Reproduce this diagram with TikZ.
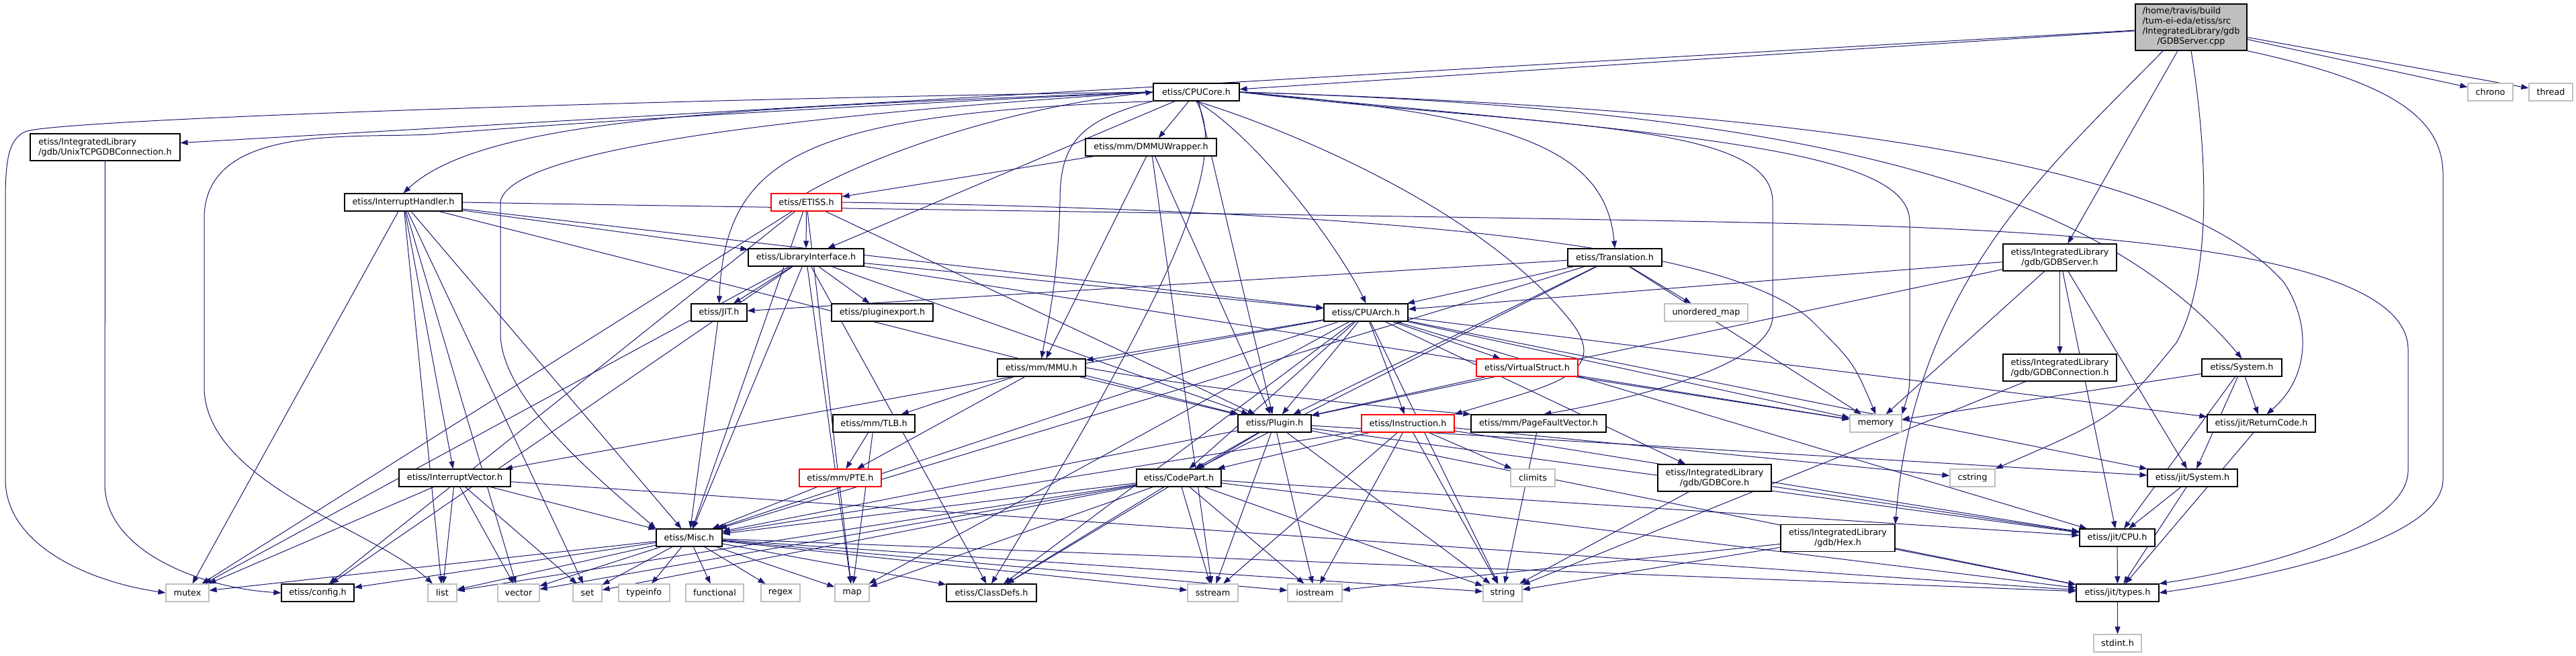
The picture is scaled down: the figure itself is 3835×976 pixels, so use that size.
\documentclass[tikz,border=0pt]{standalone}
\usepackage{fontspec}
\newfontfamily\dv{DejaVu Sans}
\usetikzlibrary{arrows.meta}
\definecolor{edgec}{HTML}{191970}
\definecolor{grayb}{HTML}{BFBFBF}
\pgfdeclarelayer{bg}
\pgfsetlayers{bg,main}
\tikzset{
  base/.style={rectangle, inner sep=0pt, line width=1.2pt, fill=white, text=black, font=\dv\fontsize{12.8}{15}\selectfont},
  nb/.style={base, draw=black},
  ng/.style={base, draw=grayb},
  nr/.style={base, draw=red},
  nroot/.style={base, draw=black, fill=grayb},
  e/.style={draw=edgec, line width=1pt, -{Triangle[length=11pt,width=8pt]}},
}
\begin{document}
\begin{tikzpicture}[x=1pt,y=-1pt]
\useasboundingbox (0,0) rectangle (3835,976);
% row 0
\node[nroot, minimum width=166pt, minimum height=69pt] (cpp) at (3262,40.5) {\begin{tabular}{@{}l@{}}/home/travis/build\\/tum-ei-eda/etiss/src\\/IntegratedLibrary/gdb\\\multicolumn{1}{@{}c@{}}{/GDBServer.cpp}\end{tabular}};
% row 1
\node[nb, minimum width=128pt, minimum height=26pt] (core) at (1781,137) {etiss/CPUCore.h};
\node[ng, minimum width=67pt, minimum height=26pt] (chrono) at (3707.5,137) {chrono};
\node[ng, minimum width=65pt, minimum height=26pt] (thread) at (3797.5,137) {thread};
% row 2
\node[nb, minimum width=223pt, minimum height=40pt, align=left] (unix) at (156.5,219) {etiss/IntegratedLibrary\\/gdb/UnixTCPGDBConnection.h};
\node[nb, minimum width=195pt, minimum height=26pt] (dmmu) at (1713.5,219) {etiss/mm/DMMUWrapper.h};
% row 3
\node[nb, minimum width=175pt, minimum height=26pt] (ih) at (600.5,301) {etiss/InterruptHandler.h};
\node[nr, minimum width=105pt, minimum height=26pt] (etiss) at (1200.5,301) {etiss/ETISS.h};
% row 4
\node[nb, minimum width=172pt, minimum height=26pt] (li) at (1200,383) {etiss/LibraryInterface.h};
\node[nb, minimum width=140pt, minimum height=26pt] (trans) at (2404,383) {etiss/Translation.h};
\node[nb, minimum width=169pt, minimum height=40pt, align=center] (gsh) at (3066.5,383) {etiss/IntegratedLibrary\\/gdb/GDBServer.h};
% row 5
\node[nb, minimum width=83pt, minimum height=26pt] (jith) at (1070.5,465) {etiss/JIT.h};
\node[nb, minimum width=151pt, minimum height=26pt] (pe) at (1313.5,465) {etiss/pluginexport.h};
\node[nb, minimum width=125pt, minimum height=26pt] (arch) at (2033.5,465) {etiss/CPUArch.h};
\node[ng, minimum width=124pt, minimum height=26pt] (umap) at (2540,465) {unordered\_map};
% row 6
\node[nb, minimum width=131pt, minimum height=26pt] (mmu) at (1550.5,547) {etiss/mm/MMU.h};
\node[nr, minimum width=151pt, minimum height=26pt] (vs) at (2273.5,547) {etiss/VirtualStruct.h};
\node[nb, minimum width=169pt, minimum height=40pt, align=center] (gconn) at (3066.5,547) {etiss/IntegratedLibrary\\/gdb/GDBConnection.h};
\node[nb, minimum width=119pt, minimum height=26pt] (sys) at (3337.5,547) {etiss/System.h};
% row 7
\node[nb, minimum width=122pt, minimum height=26pt] (tlb) at (1301,630) {etiss/mm/TLB.h};
\node[nb, minimum width=109pt, minimum height=26pt] (plugin) at (1897.5,630) {etiss/Plugin.h};
\node[nr, minimum width=138pt, minimum height=26pt] (instr) at (2096,630) {etiss/Instruction.h};
\node[nb, minimum width=201pt, minimum height=26pt] (pfv) at (2290.5,630) {etiss/mm/PageFaultVector.h};
\node[ng, minimum width=77pt, minimum height=26pt] (mem) at (2792.5,630) {memory};
\node[nb, minimum width=161pt, minimum height=26pt] (rc) at (3366.5,630) {etiss/jit/ReturnCode.h};
% row 8
\node[nb, minimum width=166pt, minimum height=26pt] (iv) at (677,711) {etiss/InterruptVector.h};
\node[nr, minimum width=122pt, minimum height=26pt] (pte) at (1251,711) {etiss/mm/PTE.h};
\node[nb, minimum width=126pt, minimum height=26pt] (cp) at (1755,711) {etiss/CodePart.h};
\node[ng, minimum width=66pt, minimum height=26pt] (climits) at (2282,711) {climits};
\node[nb, minimum width=169pt, minimum height=40pt, align=center] (gcore) at (2552.5,711) {etiss/IntegratedLibrary\\/gdb/GDBCore.h};
\node[ng, minimum width=67pt, minimum height=26pt] (cstring) at (2936.5,711) {cstring};
\node[nb, minimum width=134pt, minimum height=26pt] (jsys) at (3264,711) {etiss/jit/System.h};
% row 9
\node[nb, minimum width=98pt, minimum height=26pt] (misc) at (1026,800) {etiss/Misc.h};
\node[nb, minimum width=170pt, minimum height=40pt, align=center] (hex) at (2736,800.5) {etiss/IntegratedLibrary\\/gdb/Hex.h};
\node[nb, minimum width=112pt, minimum height=26pt] (jcpu) at (3152,800) {etiss/jit/CPU.h};
% row 10
\node[ng, minimum width=64pt, minimum height=26pt] (mutex) at (279,882) {mutex};
\node[nb, minimum width=108pt, minimum height=26pt] (config) at (473,882) {etiss/config.h};
\node[ng, minimum width=43pt, minimum height=26pt] (list) at (658.5,882) {list};
\node[ng, minimum width=62pt, minimum height=26pt] (vector) at (772,882) {vector};
\node[ng, minimum width=43pt, minimum height=26pt] (set) at (874.5,882) {set};
\node[ng, minimum width=76pt, minimum height=26pt] (typeinfo) at (959,882) {typeinfo};
\node[ng, minimum width=86pt, minimum height=26pt] (functional) at (1064,882) {functional};
\node[ng, minimum width=58pt, minimum height=26pt] (regex) at (1162,882) {regex};
\node[ng, minimum width=51pt, minimum height=26pt] (map) at (1268.5,882) {map};
\node[nb, minimum width=134pt, minimum height=26pt] (classdefs) at (1476,882) {etiss/ClassDefs.h};
\node[ng, minimum width=75pt, minimum height=26pt] (sstream) at (1805.5,882) {sstream};
\node[ng, minimum width=81pt, minimum height=26pt] (iostream) at (1957.5,882) {iostream};
\node[ng, minimum width=58pt, minimum height=26pt] (string) at (2237,882) {string};
\node[nb, minimum width=123pt, minimum height=26pt] (types) at (3152.5,882) {etiss/jit/types.h};
% row 11
\node[ng, minimum width=71pt, minimum height=26pt] (stdint) at (3152.5,957) {stdint.h};

\begin{pgfonlayer}{bg}
% long routed connectors
\draw[e] (core.west) .. controls (1100,145) and (120,175) .. (40,195) .. controls (12,205) and (8,240) .. (8,300) -- (8,713) .. controls (8,810) and (130,865) .. (mutex.west);
\draw[e] (unix.south) -- (156,720) .. controls (156,820) and (300,875) .. (config.west);
\draw[e] (core.west) .. controls (1100,165) and (760,190) .. (640,200) .. controls (520,206) and (310,185) .. (304,320) -- (304,580) .. controls (310,720) and (560,790) .. (list);
\draw[e] (cpp.south east) .. controls (3550,120) and (3637,170) .. (3637,260) -- (3637,713) .. controls (3637,800) and (3400,855) .. (types.east);
\draw[e] (ih.east) .. controls (1500,315) and (2500,325) .. (2820,337) .. controls (3150,350) and (3585,380) .. (3585,520) -- (3585,700) .. controls (3585,780) and (3400,840) .. (types.north east);
\draw[e] (core.west) .. controls (1100,160) and (720,175) .. (ih.north);
\draw[e] (core.south west) .. controls (1200,170) and (1080,230) .. (jith.north);
\draw[e] (core.west) .. controls (1200,170) and (760,220) .. (745,300) -- (745,500) .. controls (750,600) and (900,720) .. (misc.north west);
\draw[e] (core.east) .. controls (2250,170) and (2390,220) .. (trans.north);
\draw[e] (core.east) .. controls (2600,160) and (3100,250) .. (sys.north);
\draw[e] (core.east) .. controls (2750,165) and (3250,250) .. (3400,420) .. controls (3440,480) and (3440,560) .. (rc.60);
\draw[e] (core.east) .. controls (2500,200) and (2843,220) .. (2843,330) -- (2843,540) .. controls (2843,580) .. (mem.north east);
\draw[e] (core.east) .. controls (2300,190) and (2639,180) .. (2639,300) -- (2639,470) .. controls (2639,540) and (2450,590) .. (pfv.60);
\draw[e] (core.south) .. controls (1840,250) and (1700,500) .. (classdefs.north);
\draw[e] (core.south west) .. controls (1600,180) and (1578,220) .. (1578,300) .. controls (1575,420) and (1560,480) .. (mmu.north);
\draw[e] (core.south) .. controls (1880,180) and (2200,300) .. (2340,480) .. controls (2400,560) and (2300,575) .. (instr.north east);
\draw[e] (core.south) .. controls (1880,210) and (2000,380) .. (arch.north);
\draw[e] (cpp.220) .. controls (3050,250) and (2850,420) .. (hex.north east);
\draw[e] (cpp.south) .. controls (3290,250) and (3290,420) .. (3240,510) .. controls (3150,620) .. (cstring.north east);
\draw[e] (etiss.north) .. controls (1300,230) and (1500,160) .. (core.west);
\draw[e] (etiss.east) .. controls (2200,315) and (2600,380) .. (2700,480) .. controls (2760,540) .. (mem.north);
\draw[e] (mmu.east) .. controls (1800,580) and (2000,600) .. (pfv.north west);
% direct connectors
\foreach \a/\b in {cpp/core, cpp/unix, cpp/gsh, cpp/chrono, cpp/thread,
  core/li, core/dmmu, core/plugin,
  ih/li, ih/arch, ih/iv, ih/misc, ih/mutex, ih/list, ih/vector, ih/set, ih/plugin,
  etiss/li, etiss/misc, etiss/mutex, etiss/config, etiss/map, etiss/plugin,
  li/arch, li/jith, li/pe, li/misc, li/plugin, li/mutex, li/config, li/map, li/classdefs, li/mem,
  dmmu/etiss, dmmu/mmu, dmmu/plugin, dmmu/sstream,
  trans/jith, trans/arch, trans/plugin, trans/cp, trans/umap, trans/mem, trans/misc,
  gsh/arch, gsh/plugin, gsh/mem, gsh/gconn, gsh/jcpu, gsh/jsys,
  arch/misc, arch/plugin, arch/mmu, arch/cp, arch/instr, arch/vs, arch/iv, arch/jcpu, arch/jsys, arch/gcore, arch/mem, arch/string, arch/map, arch/rc, arch/classdefs,
  mmu/tlb, mmu/pte, mmu/plugin,
  tlb/pte, tlb/map, pte/misc, vs/plugin, vs/mem,
  plugin/cp, plugin/misc, plugin/classdefs, plugin/string, plugin/sstream, plugin/iostream, plugin/jcpu, plugin/jsys, plugin/types,
  instr/cp, instr/misc, instr/climits, instr/string, instr/sstream, instr/iostream, instr/cstring, instr/jcpu,
  pfv/string,
  cp/misc, cp/map, cp/list, cp/vector, cp/set, cp/sstream, cp/string, cp/iostream, cp/classdefs, cp/jcpu, cp/types,
  iv/misc, iv/mutex, iv/list, iv/set, iv/vector, iv/types,
  misc/config, misc/mutex, misc/list, misc/vector, misc/set, misc/typeinfo, misc/functional, misc/regex, misc/map, misc/classdefs, misc/sstream, misc/iostream, misc/string, misc/types,
  hex/string, hex/iostream, hex/types,
  gcore/string, gcore/jcpu, gconn/string,
  sys/mem, sys/rc, sys/jsys, sys/jcpu,
  rc/types, jsys/jcpu, jsys/types, jcpu/types, types/stdint, jith/misc}
  {\draw[e] (\a) -- (\b);}
\end{pgfonlayer}
\end{tikzpicture}
\end{document}
